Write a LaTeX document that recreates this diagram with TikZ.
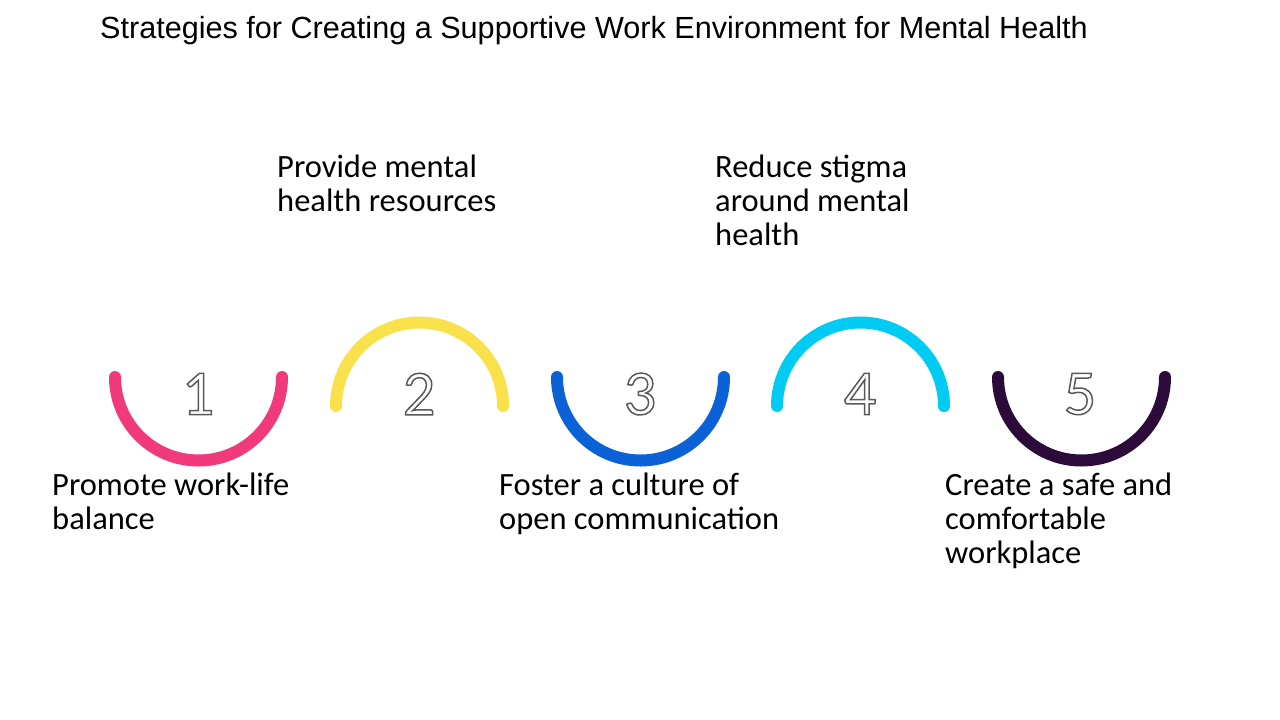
\documentclass[tikz,border=0pt]{standalone}
\usepackage{fontspec}
\setmainfont{Carlito}
\newfontfamily\titlefont{Liberation Sans}
\newcommand{\outl}[1]{\special{pdf:code 1 Tr 1.5 w 0.35 0.35 0.35 RG}#1\special{pdf:code 0 Tr}}
\begin{document}
\begin{tikzpicture}[x=1pt,y=-1pt,
  arcst/.style={line width=12pt,line cap=round},
  lbl/.style={anchor=north west,align=left,inner sep=0pt,font=\fontsize{32.5}{34}\selectfont},
  num/.style={font=\fontsize{64}{64}\selectfont,inner sep=0pt}]
\useasboundingbox[fill=white] (0,0) rectangle (1280,720);
\node[anchor=west,inner sep=0pt,font=\titlefont\fontsize{30.6}{34}\selectfont] (title) at (100,31) {Strategies for Creating a Supportive Work Environment for Mental Health};
\definecolor{c1}{HTML}{F03A7C}\definecolor{c2}{HTML}{F9E14B}\definecolor{c3}{HTML}{0A62D6}
\definecolor{c4}{HTML}{00CBF2}\definecolor{c5}{HTML}{2C0B3B}
\draw[arcst,c1] (115,377) arc[start angle=180,end angle=0,radius=83.5];
\draw[arcst,c2] (336,406) arc[start angle=180,end angle=360,radius=83.5];
\draw[arcst,c3] (557,377) arc[start angle=180,end angle=0,radius=83.5];
\draw[arcst,c4] (777,406) arc[start angle=180,end angle=360,radius=83.5];
\draw[arcst,c5] (998,377) arc[start angle=180,end angle=0,radius=83.5];
\node[num] (n1) at (198,394) {\outl{1}};
\node[num] (n2) at (419,394) {\outl{2}};
\node[num] (n3) at (640,394) {\outl{3}};
\node[num] (n4) at (860,394) {\outl{4}};
\node[num] (n5) at (1080,394) {\outl{5}};
\node[lbl] (l1) at (52,473) {Promote work-life\\balance};
\node[lbl] (l2) at (277,155) {Provide mental\\health resources};
\node[lbl] (l3) at (499,473) {Foster a culture of\\open communication};
\node[lbl] (l4) at (715,155) {Reduce stigma\\around mental\\health};
\node[lbl] (l5) at (945,473) {Create a safe and\\comfortable\\workplace};
\end{tikzpicture}
\end{document}
